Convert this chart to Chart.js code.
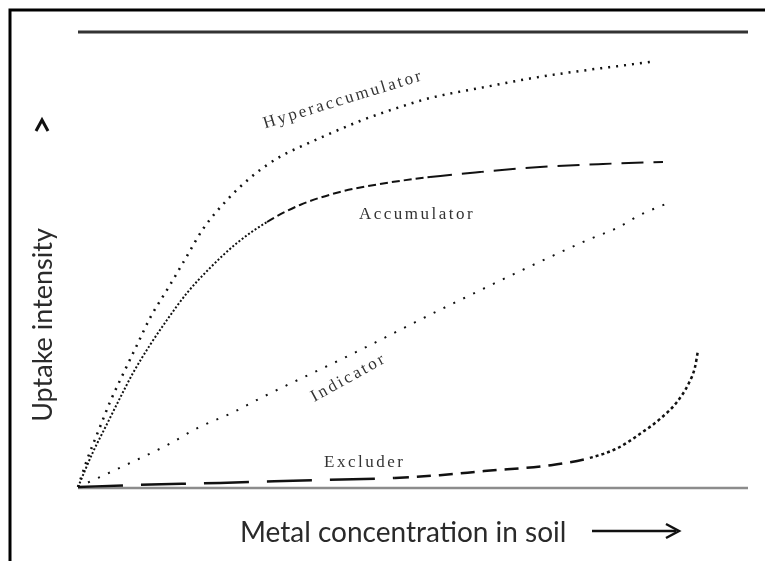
<!DOCTYPE html>
<html>
<head>
<meta charset="utf-8">
<script src="https://cdn.jsdelivr.net/npm/chart.js@4/dist/chart.umd.min.js"></script>
<style>
  html, body { margin: 0; padding: 0; background: #fff; }
  canvas { display: block; }
</style>
</head>
<body>
<canvas id="chartUptake" width="765" height="561"></canvas>
<script>
// curves, x = metal concentration (0-100), y = uptake (0-100)
const hyperX = [0, 1.34, 3.28, 4.78, 7.01, 8.81, 10.75, 13.73, 16.27, 18.66, 22.24, 25.67, 28.21, 30.6, 33.13, 36.12, 42.09, 47.61, 52.54, 60.75, 67.91, 74.93, 81.94, 85.37];
const hyperY = [0, 5.93, 13.19, 18.68, 25.71, 31.21, 37.14, 44.4, 50.77, 56.7, 63.08, 67.91, 70.77, 72.97, 74.73, 76.7, 80.44, 83.3, 85.49, 87.91, 89.89, 91.43, 92.75, 93.41];

const accumX = [0, 2.24, 4.33, 6.27, 8.21, 10.75, 13.28, 16.27, 19.7, 23.73, 28.21, 33.13, 39.1, 45.07, 52.54, 60.0, 68.96, 78.36, 87.31];
const accumY = [0, 7.69, 13.85, 19.56, 25.05, 31.21, 36.7, 42.64, 48.13, 53.63, 58.24, 61.98, 64.84, 66.59, 68.13, 69.23, 70.33, 71.0, 71.43];

const indicX = [0, 3.0, 8.1, 13.3, 17.9, 23.0, 27.6, 40.6, 55.5, 76.4, 80.4, 83.9, 88.4];
const indicY = [0, 2.0, 5.5, 9.2, 13.0, 16.3, 19.8, 29.0, 40.0, 54.5, 56.9, 59.8, 62.6];

const exclX = [0, 7.8, 21.2, 35.2, 47.3, 54.0, 60.6, 70.6, 76.4, 80.6, 83.9, 86.9, 89.4, 91.2, 92.1, 92.5];
const exclY = [0, 0.4, 0.9, 1.5, 2.0, 2.6, 3.5, 4.8, 6.4, 8.6, 11.7, 15.0, 18.7, 22.9, 26.4, 29.7];

const seriesNames = ['Hyperaccumulator', 'Accumulator', 'Indicator', 'Excluder'];
const xTitle = 'Metal concentration in soil';
const yTitle = 'Uptake intensity';

function pairs(xs, ys) {
    return xs.map(function(x, i) { return { x: x, y: ys[i] }; });
}

// where each curve name sits (data units) and its tilt
const curveLabels = [
    { text: seriesNames[0], x: 39.6, y: 85.1, angle: -17 },
    { text: seriesNames[1], x: 50.6, y: 59.8, angle: 0 },
    { text: seriesNames[2], x: 40.4, y: 24.0, angle: -29 },
    { text: seriesNames[3], x: 42.8, y: 5.3, angle: 0 }
];

const figurePlugin = {
    id: 'figure',
    beforeDraw: function(chart) {
        const ctx = chart.ctx;
        const xs = chart.scales.x, ys = chart.scales.y;
        ctx.save();
        ctx.fillStyle = '#fff';
        ctx.fillRect(0, 0, chart.width, chart.height);

        // outer frame (left and top only)
        ctx.strokeStyle = '#000';
        ctx.lineWidth = 3;
        ctx.beginPath();
        ctx.moveTo(10, chart.height);
        ctx.lineTo(10, 10);
        ctx.lineTo(chart.width, 10);
        ctx.stroke();

        // top rule and baseline
        ctx.strokeStyle = '#333';
        ctx.lineWidth = 3;
        ctx.beginPath();
        ctx.moveTo(xs.getPixelForValue(0), ys.getPixelForValue(100));
        ctx.lineTo(xs.getPixelForValue(100), ys.getPixelForValue(100));
        ctx.stroke();

        ctx.strokeStyle = '#8c8c8c';
        ctx.lineWidth = 2.5;
        ctx.beginPath();
        ctx.moveTo(xs.getPixelForValue(0), ys.getPixelForValue(0) + 1);
        ctx.lineTo(xs.getPixelForValue(100), ys.getPixelForValue(0) + 1);
        ctx.stroke();
        ctx.restore();
    },
    afterDatasetsDraw: function(chart) {
        const ctx = chart.ctx;
        const xs = chart.scales.x, ys = chart.scales.y;
        ctx.save();

        // curve names
        ctx.fillStyle = '#333';
        ctx.font = '17px "Liberation Serif"';
        ctx.letterSpacing = '2.5px';
        ctx.textAlign = 'center';
        ctx.textBaseline = 'middle';
        curveLabels.forEach(function(l) {
            ctx.save();
            ctx.translate(xs.getPixelForValue(l.x), ys.getPixelForValue(l.y));
            ctx.rotate(l.angle * Math.PI / 180);
            ctx.fillText(l.text, 0, 0);
            ctx.restore();
        });
        ctx.letterSpacing = '0px';

        // axis titles
        ctx.fillStyle = '#2a2a2a';
        ctx.font = '28px Lato';
        ctx.textAlign = 'left';
        ctx.fillText(xTitle, 240, 533);

        ctx.save();
        ctx.translate(43, 325);
        ctx.rotate(-Math.PI / 2);
        ctx.textAlign = 'center';
        ctx.font = '27px Lato';
        ctx.fillText(yTitle, 0, 0);
        ctx.restore();

        // arrow after x title
        ctx.strokeStyle = '#111';
        ctx.lineWidth = 2.5;
        ctx.beginPath();
        ctx.moveTo(592, 531);
        ctx.lineTo(676, 531);
        ctx.stroke();
        ctx.beginPath();
        ctx.moveTo(666, 524);
        ctx.lineTo(679, 531);
        ctx.lineTo(666, 538);
        ctx.stroke();

        // lone arrow head above y title
        ctx.lineWidth = 3;
        ctx.beginPath();
        ctx.moveTo(36, 131);
        ctx.lineTo(42, 120);
        ctx.lineTo(48, 131);
        ctx.stroke();
        ctx.restore();
    }
};

document.addEventListener('DOMContentLoaded', function() {
    const ctxUptake = document.getElementById('chartUptake').getContext('2d');

    new Chart(ctxUptake, {
        type: 'line',
        data: {
            datasets: [{
                label: seriesNames[0],
                data: pairs(hyperX, hyperY),
                borderColor: '#111',
                borderWidth: 2.5,
                borderDash: [2, 6]
            }, {
                label: seriesNames[1],
                data: pairs(accumX, accumY),
                borderColor: '#111',
                borderWidth: 2,
                segment: {
                    borderDash: function(c) {
                        const x = c.p0.parsed.x;
                        return x < 28 ? [2, 2] : x < 50 ? [8, 4] : [22, 10];
                    }
                }
            }, {
                label: seriesNames[2],
                data: pairs(indicX, indicY),
                borderColor: '#111',
                borderWidth: 2,
                borderDash: [2, 9]
            }, {
                label: seriesNames[3],
                data: pairs(exclX, exclY),
                borderColor: '#111',
                borderWidth: 2.5,
                segment: {
                    borderDash: function(c) {
                        const x = c.p0.parsed.x;
                        return x < 45 ? [45, 18] : x < 72 ? [14, 8] : [3, 3];
                    }
                }
            }]
        },
        options: {
            responsive: false,
            animation: false,
            elements: {
                point: { radius: 0 },
                line: { cubicInterpolationMode: 'monotone', fill: false }
            },
            datasets: { line: { clip: false } },
            layout: {
                padding: { left: 78, right: 17, top: 32, bottom: 74 }
            },
            scales: {
                x: { type: 'linear', min: 0, max: 100, display: false },
                y: { min: 0, max: 100, display: false }
            },
            plugins: {
                legend: { display: false },
                tooltip: { enabled: false }
            }
        },
        plugins: [figurePlugin]
    });
});
</script>
</body>
</html>
